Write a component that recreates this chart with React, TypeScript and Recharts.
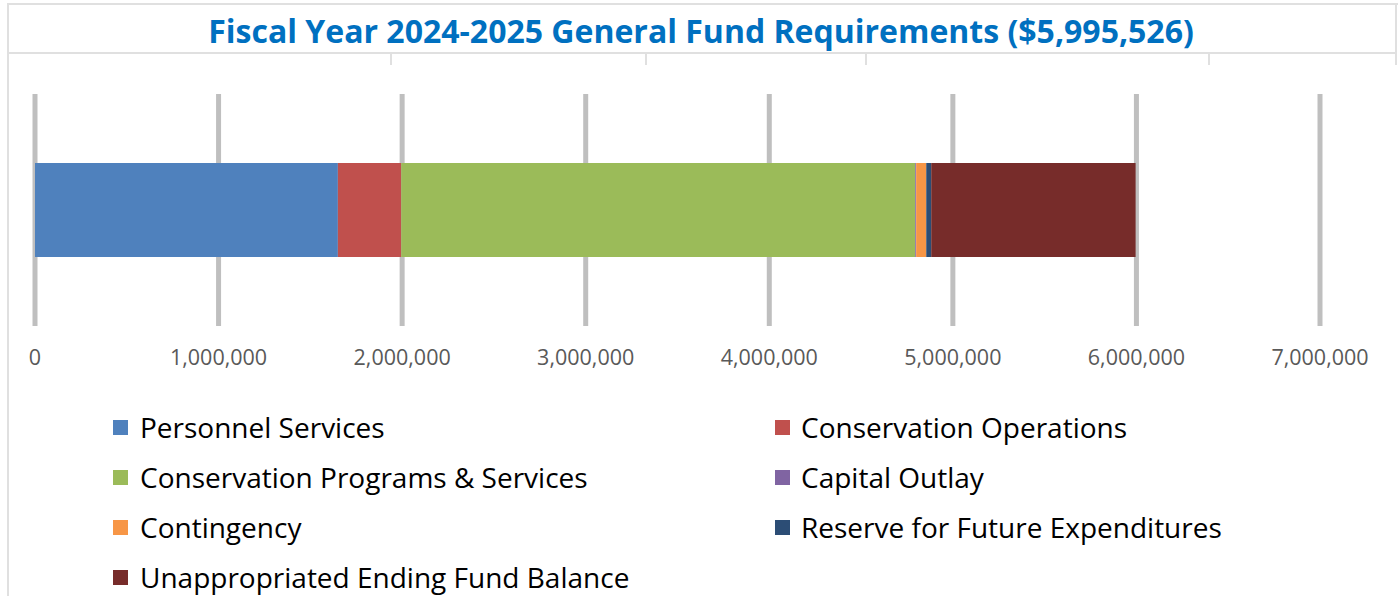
import React from 'react';
import { BarChart, Bar, XAxis, YAxis, CartesianGrid } from 'recharts';

const TITLE = 'Fiscal Year 2024-2025 General Fund Requirements ($5,995,526)';
const categories = ['FY 2024-2025'];
const seriesNames = [
  'Personnel Services',
  'Conservation Operations',
  'Conservation Programs & Services',
  'Capital Outlay',
  'Contingency',
  'Reserve for Future Expenditures',
  'Unappropriated Ending Fund Balance',
];
const seriesValues = [1650000, 345000, 2800000, 5000, 55000, 27000, 1113526];
const seriesColors = ['#4f81bd', '#c0504d', '#9bbb59', '#8064a2', '#f79646', '#2c4d75', '#772c2a'];
const xTicks = [0, 1000000, 2000000, 3000000, 4000000, 5000000, 6000000, 7000000];

const FONT = '"Open Sans", Calibri, sans-serif';
const BORDER = '#e0e0e0';

const data = categories.map((name) => {
  const row: Record<string, string | number> = { name };
  seriesNames.forEach((s, i) => {
    row[s] = seriesValues[i];
  });
  return row;
});

function Line({ x, y, w, h }: { x: number; y: number; w: number; h: number }) {
  return <div style={{ position: 'absolute', left: x, top: y, width: w, height: h, background: BORDER }} />;
}

export default function App() {
  return (
    <div style={{ position: 'relative', width: 1398, height: 596, background: '#fff', overflow: 'hidden' }}>
      <style>{'body{margin:0}'}</style>
      {/* table cell borders around the chart */}
      <Line x={7} y={3} w={1391} h={2} />
      <Line x={7} y={3} w={2} h={593} />
      <Line x={7} y={52} w={1389} h={2} />
      <Line x={1395} y={3} w={2} h={62} />
      {[390, 645, 865, 1208].map((x) => (
        <Line key={x} x={x} y={53} w={2} h={12} />
      ))}
      <div
        style={{
          position: 'absolute',
          left: 0,
          top: 9,
          width: 1402,
          textAlign: 'center',
          fontFamily: FONT,
          fontWeight: 700,
          fontSize: 32,
          color: '#0070c0',
          lineHeight: '44px',
        }}
      >
        {TITLE}
      </div>
      <div style={{ position: 'absolute', left: 0, top: 0 }}>
        <BarChart
          width={1398}
          height={596}
          data={data}
          layout="vertical"
          margin={{ top: 94, right: 78, left: 35, bottom: 230 }}
        >
          <CartesianGrid horizontal={false} stroke="#bfbfbf" strokeWidth={5} />
          <XAxis
            type="number"
            domain={[0, 7000000]}
            ticks={xTicks}
            axisLine={false}
            tickLine={false}
            tickSize={0}
            tickMargin={24}
            height={40}
            interval={0}
            tickFormatter={(v: number) => v.toLocaleString('en-US')}
            tick={{ fill: '#595959', fontSize: 21.5, fontFamily: FONT }}
          />
          <YAxis type="category" dataKey="name" hide />
          {seriesNames.map((s, i) => (
            <Bar key={s} dataKey={s} stackId="a" fill={seriesColors[i]} barSize={94} isAnimationActive={false} />
          ))}
        </BarChart>
      </div>
      {/* legend */}
      {seriesNames.map((s, i) => {
        const col = i % 2;
        const row = Math.floor(i / 2);
        const left = col === 0 ? 113 : 775;
        const top = 427 + row * 50;
        return (
          <div
            key={s}
            style={{
              position: 'absolute',
              left,
              top: top - 20,
              height: 40,
              display: 'flex',
              alignItems: 'center',
              fontFamily: FONT,
              fontSize: 28,
              color: '#000',
              whiteSpace: 'nowrap',
            }}
          >
            <span
              style={{
                display: 'inline-block',
                width: 15,
                height: 15,
                background: seriesColors[i],
                marginRight: col === 0 ? 12 : 11,
              }}
            />
            {s}
          </div>
        );
      })}
    </div>
  );
}
